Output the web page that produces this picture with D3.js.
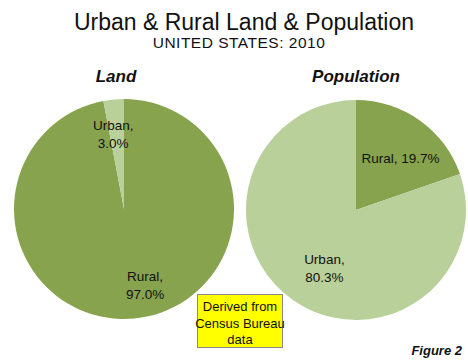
<!DOCTYPE html>
<html>
<head>
<meta charset="utf-8">
<script src="https://cdn.jsdelivr.net/npm/d3@7"></script>
<style>
  body { margin: 0; background: #fff; }
  text { font-family: "Liberation Sans", Arial, sans-serif; fill: #111; }
</style>
</head>
<body>
<svg width="468" height="360"></svg>
<script>
    // data
    const categories = ['Rural', 'Urban']
    const landValues = [97.0, 3.0]
    const popValues = [19.7, 80.3]
    const pieTitles = ['Land', 'Population']
    const colors = {Rural: '#87a34d', Urban: '#b9d09a'}

    const svg = d3.select('svg')
    const radius = 110

    svg.append('text').attr('x', 244).attr('y', 30).attr('text-anchor', 'middle')
      .style('font-size', '23px').text('Urban & Rural Land & Population')
    svg.append('text').attr('x', 239).attr('y', 48).attr('text-anchor', 'middle')
      .style('font-size', '15.5px').style('letter-spacing', '0.5px').text('UNITED STATES: 2010')

    const pie = d3.pie().sort(null).value(function(d) {return d.value})
    const arc = d3.arc().innerRadius(0).outerRadius(radius)

    function drawPie(values, title, cx, cy, titleX, labelInfo) {
      const data = categories.map(function(c, i) {return {cat: c, value: values[i]}})
      const g = svg.append('g').attr('transform', 'translate(' + cx + ',' + cy + ')')
      g.selectAll('path').data(pie(data)).enter().append('path')
        .attr('d', arc)
        .attr('fill', function(d) {return colors[d.data.cat]})
      svg.append('text').attr('x', titleX).attr('y', 82).attr('text-anchor', 'middle')
        .style('font-size', '17px').style('font-weight', 'bold').style('font-style', 'italic')
        .text(title)
      g.selectAll('text.lbl').data(pie(data)).enter().append('text')
        .attr('class', 'lbl')
        .attr('text-anchor', 'middle')
        .style('font-size', '13.5px')
        .each(function(d, i) {
          const info = labelInfo[i]
          const la = d3.arc().innerRadius(info.r).outerRadius(info.r)
          const c = la.centroid(d)
          const t = d3.select(this)
          const pct = d3.format('.1f')(d.data.value) + '%'
          if (info.oneLine) {
            t.append('tspan').attr('x', c[0] + info.dx).attr('y', c[1] + info.dy).text(d.data.cat + ', ' + pct)
          } else {
            t.append('tspan').attr('x', c[0] + info.dx).attr('y', c[1] + info.dy - 3).text(d.data.cat + ',')
            t.append('tspan').attr('x', c[0] + info.dx).attr('y', c[1] + info.dy + 15).text(pct)
          }
        })
    }

    drawPie(landValues, pieTitles[0], 124, 209, 116, [
      {r: 75, dx: 14, dy: 0},
      {r: 72, dx: -4, dy: -4}
    ])
    drawPie(popValues, pieTitles[1], 356, 210, 356, [
      {r: 68, dx: 5, dy: 8, oneLine: true},
      {r: 70, dx: 9, dy: 0}
    ])

    // source box
    svg.append('rect').attr('x', 197.5).attr('y', 294.5).attr('width', 85).attr('height', 53)
      .attr('fill', '#ffff00').attr('stroke', '#8a8a8a').attr('stroke-width', 1)
    const src = ['Derived from', 'Census Bureau', 'data']
    svg.selectAll('text.src').data(src).enter().append('text')
      .attr('class', 'src')
      .attr('x', 240)
      .attr('y', function(d, i) {return 311 + i * 16.5})
      .attr('text-anchor', 'middle')
      .style('font-size', '13px')
      .text(function(d) {return d})

    svg.append('text').attr('x', 462).attr('y', 355).attr('text-anchor', 'end')
      .style('font-size', '13px').style('font-weight', 'bold').style('font-style', 'italic')
      .text('Figure 2')
</script>
</body>
</html>
